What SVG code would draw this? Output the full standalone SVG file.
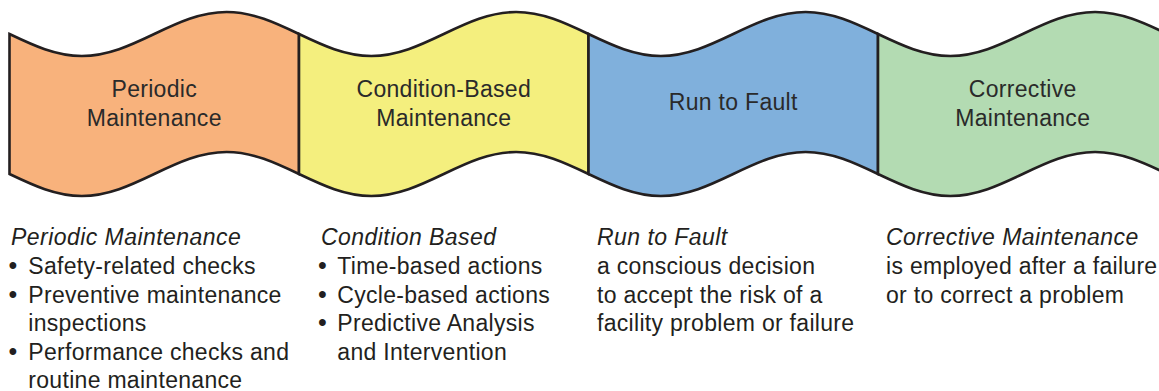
<svg xmlns="http://www.w3.org/2000/svg" xmlns:xlink="http://www.w3.org/1999/xlink" width="1159" height="391" viewBox="0 0 1159 391">
  <style>
    .band { stroke: #231f20; stroke-width: 2.6; stroke-linejoin: miter; }
    .title { font-family: "Liberation Sans", Arial, sans-serif; font-size: 23px; fill: #2a2a2a; text-anchor: middle; letter-spacing: 0.3px; }
    .body { font-family: "Liberation Sans", Arial, sans-serif; font-size: 23px; fill: #231f20; letter-spacing: 0.3px; }
    .head { font-style: italic; letter-spacing: 0.45px; }
    .dot { font-size: 25px; }
  </style>
  <defs>
    <!-- one full wave period of the ribbon, 289.5 wide -->
    <path id="seg" d="M0,34 C23.6,45.27 46.3,56 72.375,56 S121.15,45.27 144.75,34 S191.05,12 217.125,12 S265.9,22.73 289.5,34 L289.5,174 C265.9,162.73 243.2,152 217.125,152 S168.35,162.73 144.75,174 S98.45,196 72.375,196 S23.6,185.27 0,174 Z"/>
  </defs>

  <g id="periodic">
    <use xlink:href="#seg" href="#seg" x="9.5" class="band" fill="#f8b27c"/>
    <text class="title" x="154.25" y="97">Periodic</text>
    <text class="title" x="154.25" y="126">Maintenance</text>
  </g>
  <g id="condition-based">
    <use xlink:href="#seg" href="#seg" x="299" class="band" fill="#f4ef7e"/>
    <text class="title" x="443.75" y="97">Condition-Based</text>
    <text class="title" x="443.75" y="126">Maintenance</text>
  </g>
  <g id="run-to-fault">
    <use xlink:href="#seg" href="#seg" x="588.5" class="band" fill="#80b0dc"/>
    <text class="title" x="733.25" y="110">Run to Fault</text>
  </g>
  <g id="corrective">
    <use xlink:href="#seg" href="#seg" x="878" class="band" fill="#b3dbb2"/>
    <text class="title" x="1022.75" y="97">Corrective</text>
    <text class="title" x="1022.75" y="126">Maintenance</text>
  </g>

  <g id="connectors"/>

  <!-- descriptions under the ribbon -->
  <g id="periodic-notes" class="body">
    <text class="head" x="11" y="245">Periodic Maintenance</text>
    <text class="dot" x="8.5" y="274">•</text><text x="28.3" y="274">Safety-related checks</text>
    <text class="dot" x="8.5" y="302.5">•</text><text x="28.3" y="302.5">Preventive maintenance</text>
    <text x="28.3" y="331">inspections</text>
    <text class="dot" x="8.5" y="359.5">•</text><text x="28.3" y="359.5">Performance checks and</text>
    <text x="28.3" y="388">routine maintenance</text>
  </g>
  <g id="condition-notes" class="body">
    <text class="head" x="321" y="245">Condition Based</text>
    <text class="dot" x="318" y="274">•</text><text x="337.3" y="274">Time-based actions</text>
    <text class="dot" x="318" y="302.5">•</text><text x="337.3" y="302.5">Cycle-based actions</text>
    <text class="dot" x="318" y="331">•</text><text x="337.3" y="331">Predictive Analysis</text>
    <text x="337.3" y="359.5">and Intervention</text>
  </g>
  <g id="fault-notes" class="body">
    <text class="head" x="597" y="245">Run to Fault</text>
    <text x="597" y="274">a conscious decision</text>
    <text x="597" y="302.5">to accept the risk of a</text>
    <text x="597" y="331">facility problem or failure</text>
  </g>
  <g id="corrective-notes" class="body">
    <text class="head" x="886" y="245">Corrective Maintenance</text>
    <text x="886" y="274">is employed after a failure</text>
    <text x="886" y="302.5">or to correct a problem</text>
  </g>
</svg>
